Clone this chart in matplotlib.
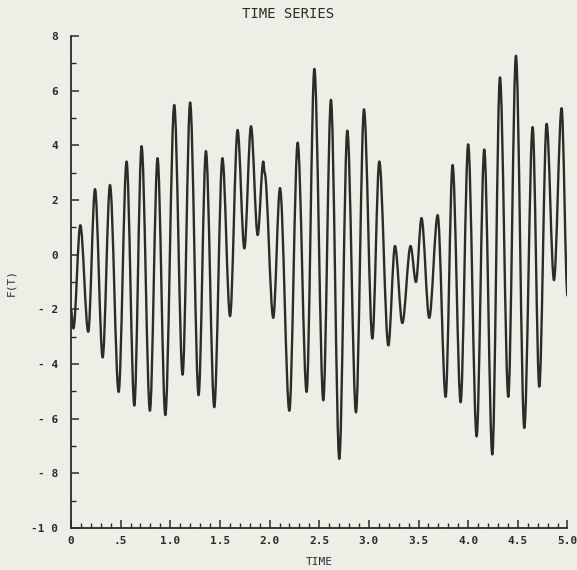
import matplotlib
matplotlib.use('Agg')
import matplotlib.pyplot as plt
from matplotlib.ticker import MultipleLocator
from matplotlib.path import Path
from matplotlib.patches import PathPatch

# peaks / troughs
t = [0.0, 0.025, 0.094, 0.174, 0.242, 0.319, 0.393, 0.48, 0.56, 0.638,
     0.711, 0.795, 0.872, 0.95, 1.04, 1.124, 1.20, 1.285, 1.359, 1.443,
     1.525, 1.602, 1.678, 1.746, 1.813, 1.88, 1.937, 1.95, 2.037, 2.105,
     2.199, 2.283, 2.373, 2.451, 2.541, 2.618, 2.702, 2.783, 2.87, 2.951,
     3.035, 3.105, 3.196, 3.263, 3.337, 3.42, 3.474, 3.53, 3.608, 3.693,
     3.773, 3.843, 3.924, 4.0, 4.085, 4.162, 4.243, 4.32, 4.404, 4.481,
     4.565, 4.649, 4.716, 4.79, 4.864, 4.941, 5.0]
f = [-2.0, -2.7, 1.08, -2.82, 2.4, -3.76, 2.55, -5.02, 3.41, -5.52,
     3.97, -5.71, 3.53, -5.87, 5.48, -4.39, 5.57, -5.14, 3.79, -5.58,
     3.53, -2.25, 4.56, 0.23, 4.7, 0.72, 3.41, 3.0, -2.31, 2.44,
     -5.71, 4.1, -5.02, 6.8, -5.33, 5.67, -7.47, 4.54, -5.77, 5.32,
     -3.07, 3.41, -3.32, 0.32, -2.5, 0.32, -1.0, 1.34, -2.31, 1.45,
     -5.2, 3.28, -5.4, 4.04, -6.65, 3.85, -7.31, 6.49, -5.2, 7.28,
     -6.34, 4.67, -4.83, 4.79, -0.93, 5.36, -1.5]

xticks = [0, 0.5, 1.0, 1.5, 2.0, 2.5, 3.0, 3.5, 4.0, 4.5, 5.0]
xlabels = ['0', '.5', '1.0', '1.5', '2.0', '2.5', '3.0', '3.5', '4.0', '4.5', '5.0']
yticks = [8, 6, 4, 2, 0, -2, -4, -6, -8, -10]
ylabels = ['8', '6', '4', '2', '0', '- 2', '- 4', '- 6', '- 8', '-1 0']

bg = '#efeee6'
ink = '#2b2b2b'

fig = plt.figure(figsize=(5.77, 5.70), dpi=100, facecolor=bg)
ax = fig.add_axes([0.123, 0.0737, 0.8605, 0.863], facecolor=bg)

# smooth curve between the extrema: cubic segments, flat at each peak/trough
verts = [(t[0], f[0])]
codes = [Path.MOVETO]
for i in range(1, len(t)):
    dt = t[i] - t[i-1]
    verts += [(t[i-1] + dt/3, f[i-1]), (t[i] - dt/3, f[i]), (t[i], f[i])]
    codes += [Path.CURVE4] * 3
curve = PathPatch(Path(verts, codes), facecolor='none', edgecolor=ink,
                  lw=1.7, joinstyle='round', capstyle='round')
ax.add_patch(curve)

ax.set_xlim(0, 5.0)
ax.set_ylim(-10, 8)
ax.spines['top'].set_visible(False)
ax.spines['right'].set_visible(False)
for s in ['left', 'bottom']:
    ax.spines[s].set_color(ink)
    ax.spines[s].set_linewidth(1.3)

ax.set_xticks(xticks)
ax.set_xticklabels(xlabels, family='DejaVu Sans Mono', fontsize=8, weight='bold', color=ink)
ax.set_yticks(yticks)
ax.set_yticklabels(ylabels, family='DejaVu Sans Mono', fontsize=8, weight='bold', color=ink)
ax.xaxis.set_minor_locator(MultipleLocator(0.1))
ax.yaxis.set_minor_locator(MultipleLocator(1))
ax.tick_params(axis='both', which='major', direction='in', length=6, width=1.1, color=ink)
ax.tick_params(axis='both', which='minor', direction='in', length=3.5, width=1.0, color=ink)
ax.tick_params(axis='x', which='major', pad=6)
ax.tick_params(axis='y', which='major', pad=9)

ax.set_xlabel('TIME', family='DejaVu Sans Mono', fontsize=8, color=ink, labelpad=8)
ax.set_ylabel('F(T)', family='DejaVu Sans Mono', fontsize=8, color=ink)
ax.yaxis.set_label_coords(-0.11, 0.5)
fig.text(0.5, 0.975, 'TIME SERIES', family='DejaVu Sans Mono', fontsize=10,
         color=ink, ha='center', va='center')

fig.savefig('out.png', dpi=100, facecolor=bg)
